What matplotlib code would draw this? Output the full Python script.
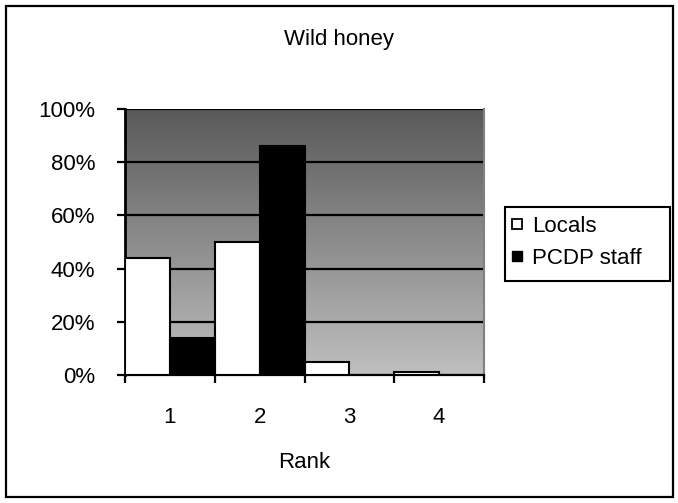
import numpy as np
import matplotlib
matplotlib.use("Agg")
import matplotlib.pyplot as plt
from matplotlib.patches import Rectangle
from matplotlib.lines import Line2D

plt.rcParams['font.family'] = ['Liberation Sans', 'DejaVu Sans']
FS = 16
W, H = 678, 503

ranks = ['1', '2', '3', '4']
locals_pct = [44, 50, 5, 1]
staff_pct = [14, 86, 0, 0]
series_names = ['Locals', 'PCDP staff']
yticks = [0, 20, 40, 60, 80, 100]

fig = plt.figure(figsize=(W / 100, H / 100), dpi=100)
ax = fig.add_axes([125 / W, 1 - 375 / H, 359 / W, 266 / H])

# plot area gradient: dark on top, light at the bottom
grad = np.linspace(0, 1, 256).reshape(-1, 1)
top, bottom = np.array([0.35, 0.35, 0.35]), np.array([0.75, 0.75, 0.75])
img = top + (bottom - top) * grad          # (256, 3)
img = np.repeat(img[:, np.newaxis, :], 2, axis=1)
ax.imshow(img, extent=[0.5, 4.5, 0, 100], aspect='auto', zorder=0,
          origin='upper', interpolation='bilinear')

x = np.arange(1, len(ranks) + 1)
ax.bar(x - 0.25, locals_pct, width=0.5, color='white', edgecolor='black',
       linewidth=1.5, zorder=3)
ax.bar(x + 0.25, staff_pct, width=0.5, color='black', edgecolor='black',
       linewidth=1.5, zorder=3)

ax.set_xlim(0.5, 4.5)
ax.set_ylim(0, 100)
for y in yticks[1:]:
    ax.axhline(y, color='black', lw=1.6, zorder=2)

ax.set_yticks(yticks)
ax.set_yticklabels([f"{v}%" for v in yticks], fontsize=FS)
ax.set_xticks(x)
ax.set_xticklabels(ranks, fontsize=FS)
ax.set_xticks(np.arange(0.5, 4.6, 1), minor=True)
ax.tick_params(axis='x', which='major', length=0, pad=23)
ax.tick_params(axis='x', which='minor', length=6, width=1.6, direction='out')
ax.tick_params(axis='y', length=6, width=1.6, direction='out', pad=15.5)

ax.spines['top'].set_visible(False)
ax.spines['right'].set_color('#808080')
ax.spines['right'].set_linewidth(1.5)
ax.spines['left'].set_linewidth(2)
ax.spines['bottom'].set_linewidth(1.6)

ax.set_xlabel('Rank', fontsize=FS, labelpad=17)
fig.text(0.5, 1 - 39 / H, 'Wild honey', ha='center', va='center', fontsize=FS)

# legend: entries without frame, box drawn separately
handles = [Line2D([], [], marker='s', ls='', markersize=7.5, markerfacecolor='white',
                  markeredgecolor='black', markeredgewidth=1.3),
           Line2D([], [], marker='s', ls='', markersize=7.5, markerfacecolor='black',
                  markeredgecolor='black')]
fig.legend(handles, series_names, loc='upper left',
           bbox_to_anchor=(508 / W, 1 - 216 / H), fontsize=FS, frameon=False,
           handletextpad=0.3, handlelength=0.8, borderpad=0, labelspacing=0.5,
           borderaxespad=0)
fig.patches.append(Rectangle((505 / W, 1 - 281 / H), 165 / W, 74 / H,
                             transform=fig.transFigure, fill=False,
                             edgecolor='black', lw=1.5))

# outer chart border
fig.patches.append(Rectangle((6 / W, 6 / H), 667 / W, 491 / H, transform=fig.transFigure,
                             fill=False, edgecolor='black', lw=1.6))

fig.savefig('out.png', dpi=100)
